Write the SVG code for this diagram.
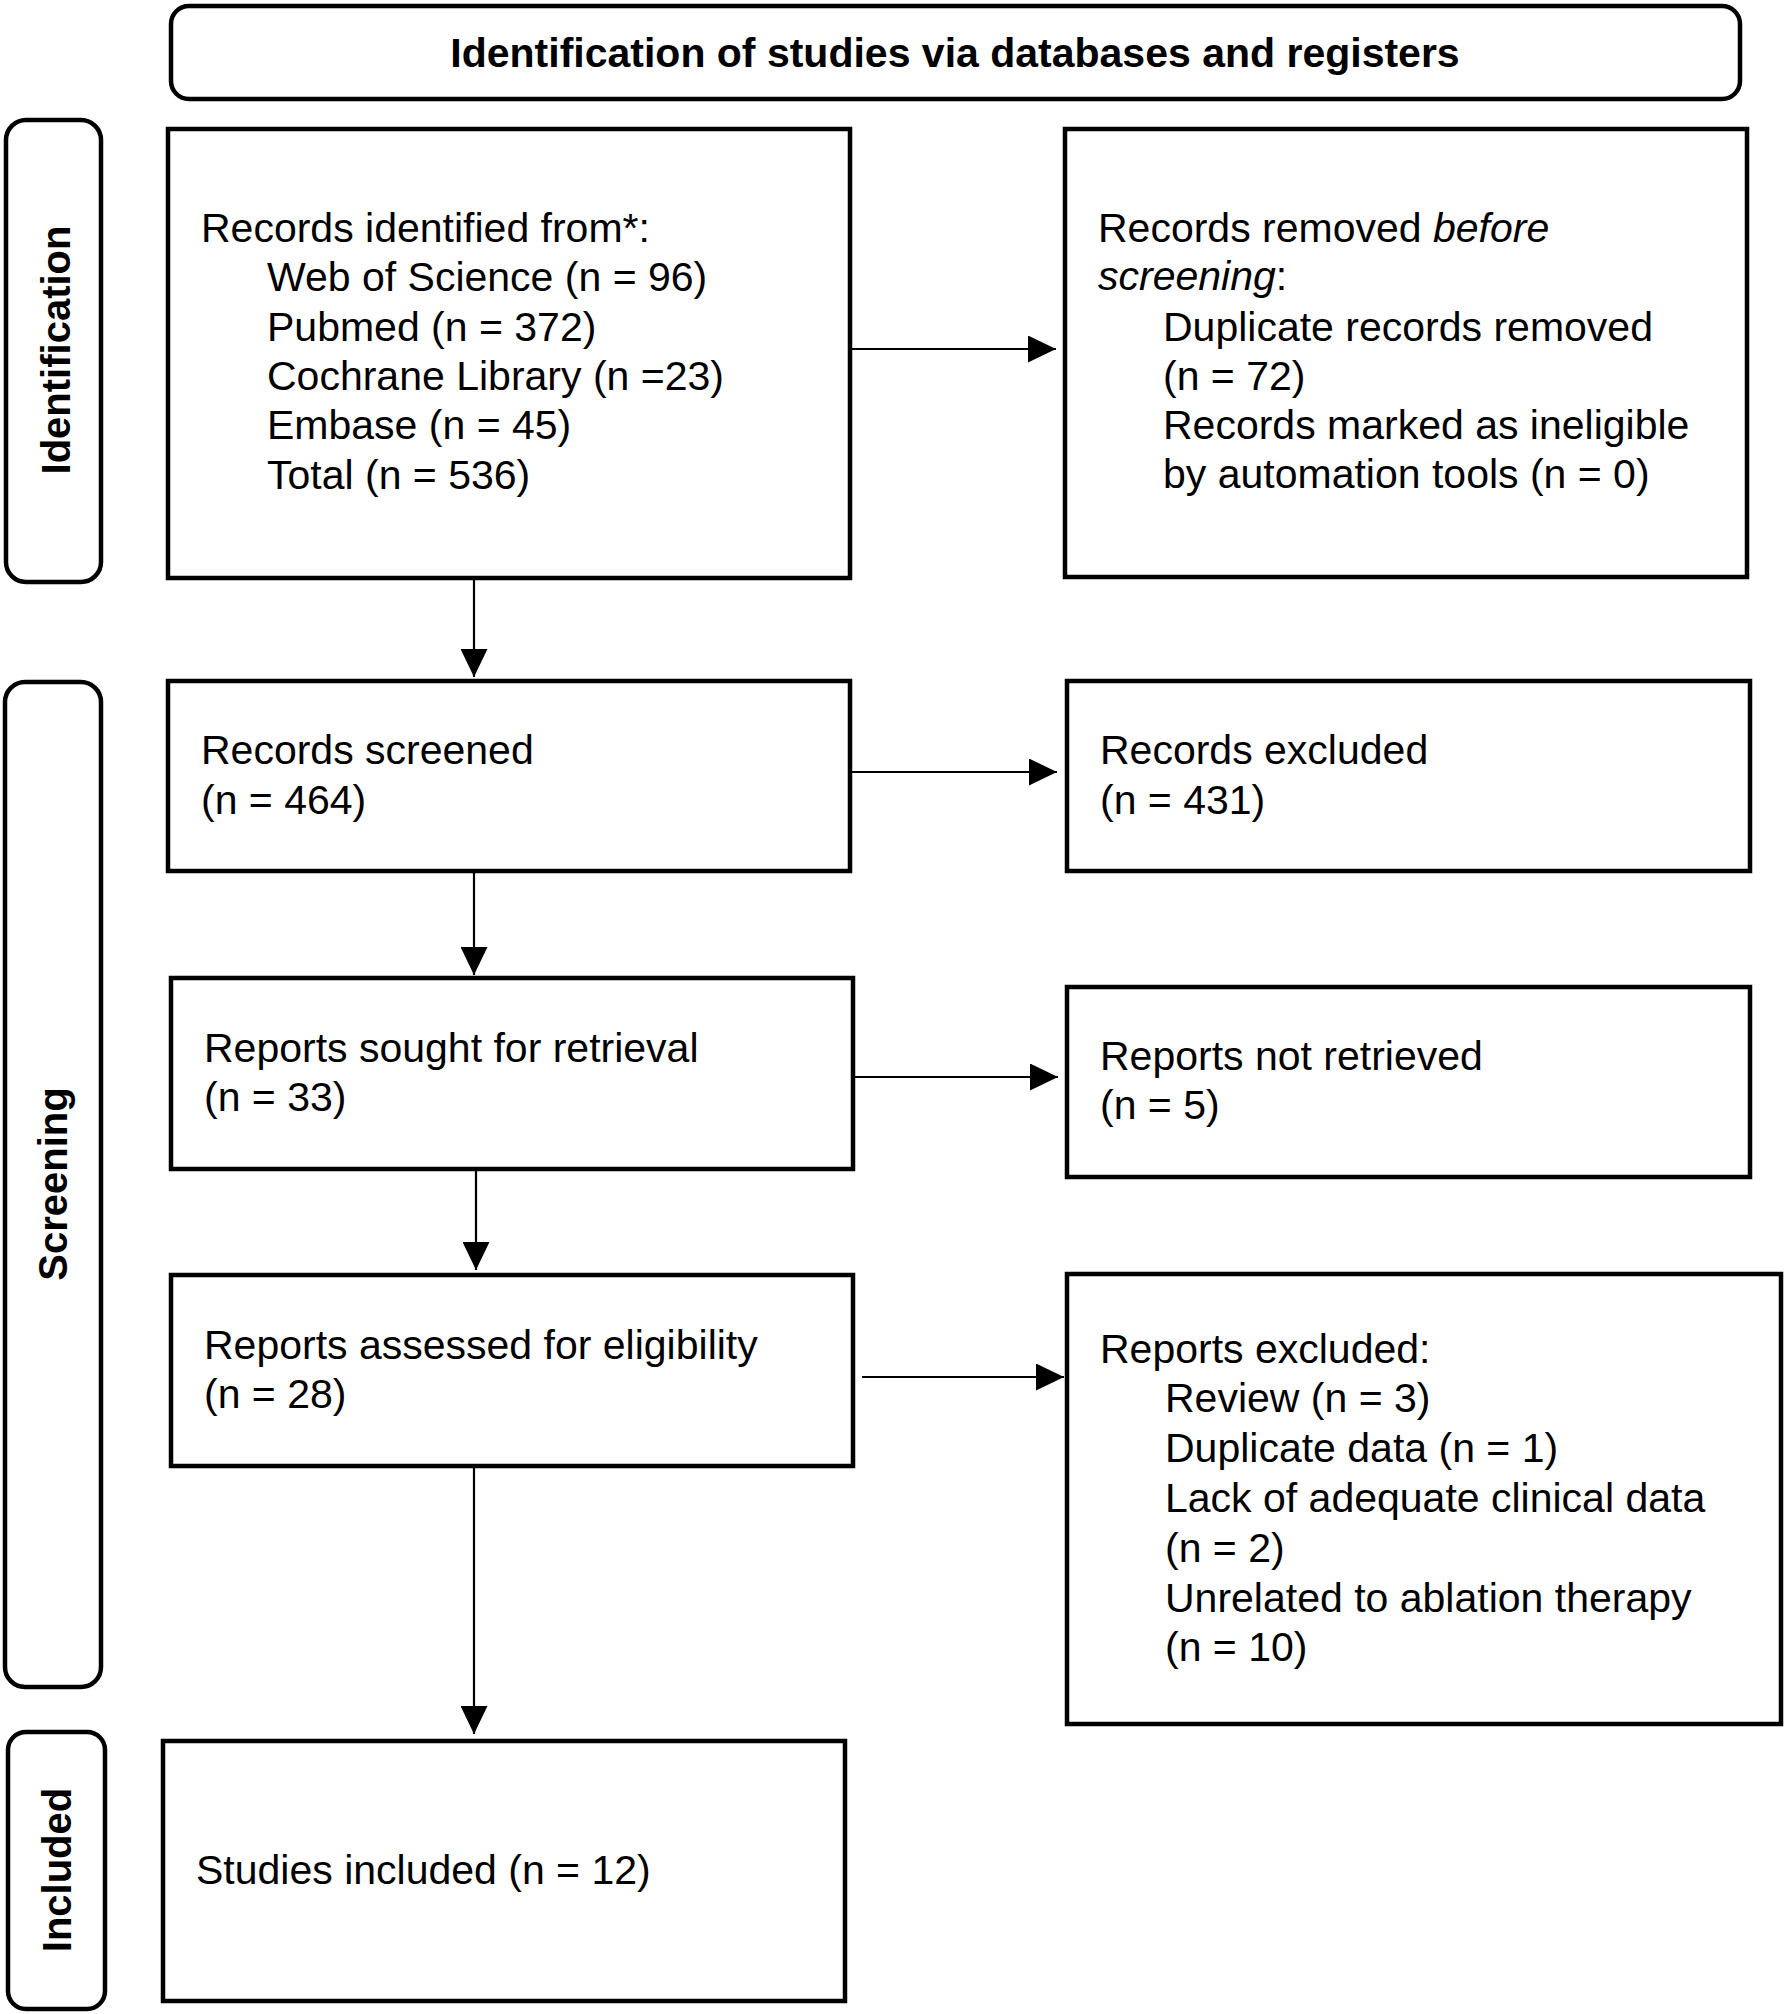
<svg xmlns="http://www.w3.org/2000/svg" width="1786" height="2014" viewBox="0 0 1786 2014">
<style>
.box{fill:#fff;stroke:#000;stroke-width:4.5}
.t{font-family:"Liberation Sans",Arial,sans-serif;font-size:41px;fill:#000}
.b{font-family:"Liberation Sans",Arial,sans-serif;font-weight:bold;fill:#000}
.c{stroke:#000;stroke-width:2.2;fill:none;marker-end:url(#ah)}
</style>
<defs>
<marker id="ah" markerUnits="userSpaceOnUse" markerWidth="28" markerHeight="27" refX="28" refY="13.5" orient="auto">
<path d="M0,0 L28,13.5 L0,27 Z" fill="#000"/>
</marker>
</defs>
<rect width="1786" height="2014" fill="#fff"/>
<g id="header">
<rect class="box" x="171" y="6" width="1569" height="93" rx="18"/>
<text class="b" x="955" y="67" font-size="41" text-anchor="middle">Identification of studies via databases and registers</text>
</g>
<g id="phase-identification">
<rect class="box" x="6" y="120" width="95" height="462" rx="20"/>
<text class="b" font-size="40" text-anchor="middle" transform="translate(70,350) rotate(-90)">Identification</text>
</g>
<g id="phase-screening">
<rect class="box" x="5" y="682" width="96" height="1005" rx="20"/>
<text class="b" font-size="40" text-anchor="middle" transform="translate(67,1184) rotate(-90)">Screening</text>
</g>
<g id="phase-included">
<rect class="box" x="8" y="1732" width="97" height="277" rx="18"/>
<text class="b" font-size="40" text-anchor="middle" transform="translate(71,1870) rotate(-90)">Included</text>
</g>
<g id="records-identified">
<rect class="box" x="168" y="129" width="682" height="449"/>
<text class="t"><tspan x="201" y="242">Records identified from*:</tspan><tspan x="267" y="291">Web of Science (n = 96)</tspan><tspan x="267" y="341">Pubmed (n = 372)</tspan><tspan x="267" y="390">Cochrane Library (n =23)</tspan><tspan x="267" y="439">Embase (n = 45)</tspan><tspan x="267" y="489">Total (n = 536)</tspan></text>
</g>
<g id="records-removed">
<rect class="box" x="1065" y="129" width="682" height="448"/>
<text class="t"><tspan x="1098" y="242">Records removed <tspan font-style="italic">before</tspan></tspan><tspan x="1098" y="290"><tspan font-style="italic">screening</tspan>:</tspan><tspan x="1163" y="341">Duplicate records removed</tspan><tspan x="1163" y="390">(n = 72)</tspan><tspan x="1163" y="439">Records marked as ineligible</tspan><tspan x="1163" y="488">by automation tools (n = 0)</tspan></text>
</g>
<g id="records-screened">
<rect class="box" x="168" y="681" width="682" height="190"/>
<text class="t"><tspan x="201" y="764">Records screened</tspan><tspan x="201" y="814">(n = 464)</tspan></text>
</g>
<g id="records-excluded">
<rect class="box" x="1067" y="681" width="683" height="190"/>
<text class="t"><tspan x="1100" y="764">Records excluded</tspan><tspan x="1100" y="814">(n = 431)</tspan></text>
</g>
<g id="reports-sought">
<rect class="box" x="171" y="978" width="682" height="191"/>
<text class="t"><tspan x="204" y="1062">Reports sought for retrieval</tspan><tspan x="204" y="1111">(n = 33)</tspan></text>
</g>
<g id="reports-not-retrieved">
<rect class="box" x="1067" y="987" width="683" height="190"/>
<text class="t"><tspan x="1100" y="1070">Reports not retrieved</tspan><tspan x="1100" y="1119">(n = 5)</tspan></text>
</g>
<g id="reports-assessed">
<rect class="box" x="171" y="1275" width="682" height="191"/>
<text class="t"><tspan x="204" y="1359">Reports assessed for eligibility</tspan><tspan x="204" y="1408">(n = 28)</tspan></text>
</g>
<g id="reports-excluded">
<rect class="box" x="1067" y="1274" width="714" height="450"/>
<text class="t"><tspan x="1100" y="1363">Reports excluded:</tspan><tspan x="1165" y="1412">Review (n = 3)</tspan><tspan x="1165" y="1462">Duplicate data (n = 1)</tspan><tspan x="1165" y="1512">Lack of adequate clinical data</tspan><tspan x="1165" y="1562">(n = 2)</tspan><tspan x="1165" y="1612">Unrelated to ablation therapy</tspan><tspan x="1165" y="1661">(n = 10)</tspan></text>
</g>
<g id="studies-included">
<rect class="box" x="163" y="1741" width="682" height="260"/>
<text class="t" x="196" y="1884">Studies included (n = 12)</text>
</g>
<g id="connectors">
<line class="c" x1="852" y1="349" x2="1056" y2="349"/>
<line class="c" x1="474" y1="580" x2="474" y2="677"/>
<line class="c" x1="852" y1="772" x2="1057" y2="772"/>
<line class="c" x1="474" y1="873" x2="474" y2="975"/>
<line class="c" x1="855" y1="1077" x2="1058" y2="1077"/>
<line class="c" x1="476" y1="1171" x2="476" y2="1270"/>
<line class="c" x1="862" y1="1377" x2="1064" y2="1377"/>
<line class="c" x1="474" y1="1468" x2="474" y2="1734"/>
</g>
</svg>
